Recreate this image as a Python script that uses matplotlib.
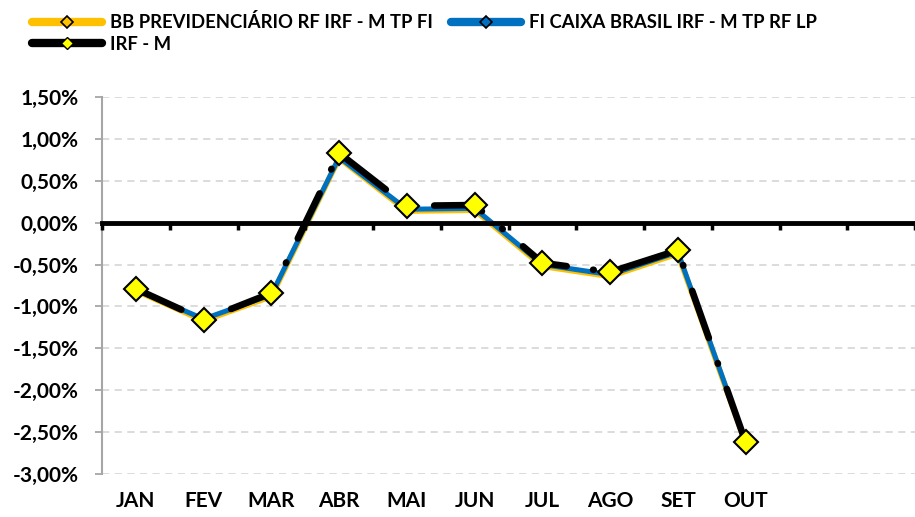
import matplotlib
matplotlib.use('Agg')
import matplotlib.pyplot as plt
from matplotlib.lines import Line2D
import numpy as np

plt.rcParams['font.family'] = ['Lato', 'DejaVu Sans']
plt.rcParams['font.weight'] = 'bold'

# monthly returns in %
months = ['JAN', 'FEV', 'MAR', 'ABR', 'MAI', 'JUN', 'JUL', 'AGO', 'SET', 'OUT', '', '']
bb_prev = [-0.81, -1.17, -0.88, 0.77, 0.14, 0.15, -0.52, -0.64, -0.37, -2.63]
fi_caixa = [-0.80, -1.15, -0.86, 0.78, 0.16, 0.17, -0.50, -0.62, -0.35, -2.62]
irf_m = [-0.79, -1.16, -0.84, 0.83, 0.20, 0.21, -0.48, -0.59, -0.33, -2.62]
yticks = [1.5, 1.0, 0.5, 0.0, -0.5, -1.0, -1.5, -2.0, -2.5, -3.0]

labels = ['BB PREVIDENCIÁRIO RF IRF - M TP FI', 'FI CAIXA BRASIL IRF - M TP RF LP', 'IRF - M']
orange = '#FFC000'
blue = '#0070C0'

fig = plt.figure(figsize=(9.15, 5.17), dpi=100)
ax = fig.add_axes([0.1115, 0.0832, 0.8885, 0.7292])

x = np.arange(len(bb_prev))
for v in yticks:
    if v != 0:
        ax.axhline(v, color='#D9D9D9', lw=1.3, ls=(0, (4, 3)), zorder=0)

ax.plot(x, bb_prev, color=orange, lw=4.2, solid_joinstyle='round', zorder=2)
ax.plot(x, fi_caixa, color=blue, lw=3.6, solid_joinstyle='round', zorder=3)
ax.plot(x, irf_m, color='black', lw=4.8, ls=(0, (7.5, 4, 0.1, 4)),
        dash_capstyle='round', zorder=4)
ax.plot(x, irf_m, ls='none', marker='D', ms=12.5, mfc='#FFFF00', mec='black',
        mew=1.5, zorder=5)

ax.set_xlim(-0.5, len(months) - 0.5)
ax.set_ylim(-3.0, 1.5)
ax.set_yticks(yticks)
ax.set_yticklabels(['{:.2f}%'.format(v).replace('.', ',') for v in yticks])
ax.set_xticks(np.arange(len(months)))
ax.set_xticklabels(months)
ax.tick_params(axis='x', length=0, pad=12, labelsize=15)
ax.tick_params(axis='y', length=5, width=1.3, color='#A6A6A6', labelsize=15, pad=12)

for s in ['top', 'right', 'bottom']:
    ax.spines[s].set_visible(False)
ax.spines['left'].set_color('#A6A6A6')
ax.spines['left'].set_linewidth(1.5)

# horizontal axis line at zero with category boundary ticks
sec = ax.secondary_xaxis(0, transform=ax.transData)
sec.set_xticks(np.arange(-0.5, len(months), 1))
sec.set_xticklabels([])
sec.xaxis.set_ticks_position('bottom')
sec.tick_params(axis='x', direction='out', length=5, width=2.5, color='black')
sec.spines['top'].set_visible(False)
sec.spines['bottom'].set_visible(True)
sec.spines['bottom'].set_color('black')
sec.spines['bottom'].set_linewidth(3.5)
sec.set_zorder(3.5)

handles = [
    Line2D([], [], color=orange, lw=6, solid_capstyle='round', marker='D', ms=6,
           mfc=orange, mec='black', mew=1.2),
    Line2D([], [], color='black', lw=6, solid_capstyle='round', marker='D', ms=6,
           mfc='#FFFF00', mec='black', mew=1.0),
    Line2D([], [], color=blue, lw=6, solid_capstyle='round', marker='D', ms=6,
           mfc=blue, mec='black', mew=1.2),
]
fig.legend(handles, [labels[0], labels[2], labels[1]], loc='upper left',
           bbox_to_anchor=(0.017, 1.007), ncol=2, frameon=False, fontsize=13.3,
           handlelength=3.8, handletextpad=0.4, labelspacing=0.25, columnspacing=1.0)

fig.savefig('out.png', dpi=100)
